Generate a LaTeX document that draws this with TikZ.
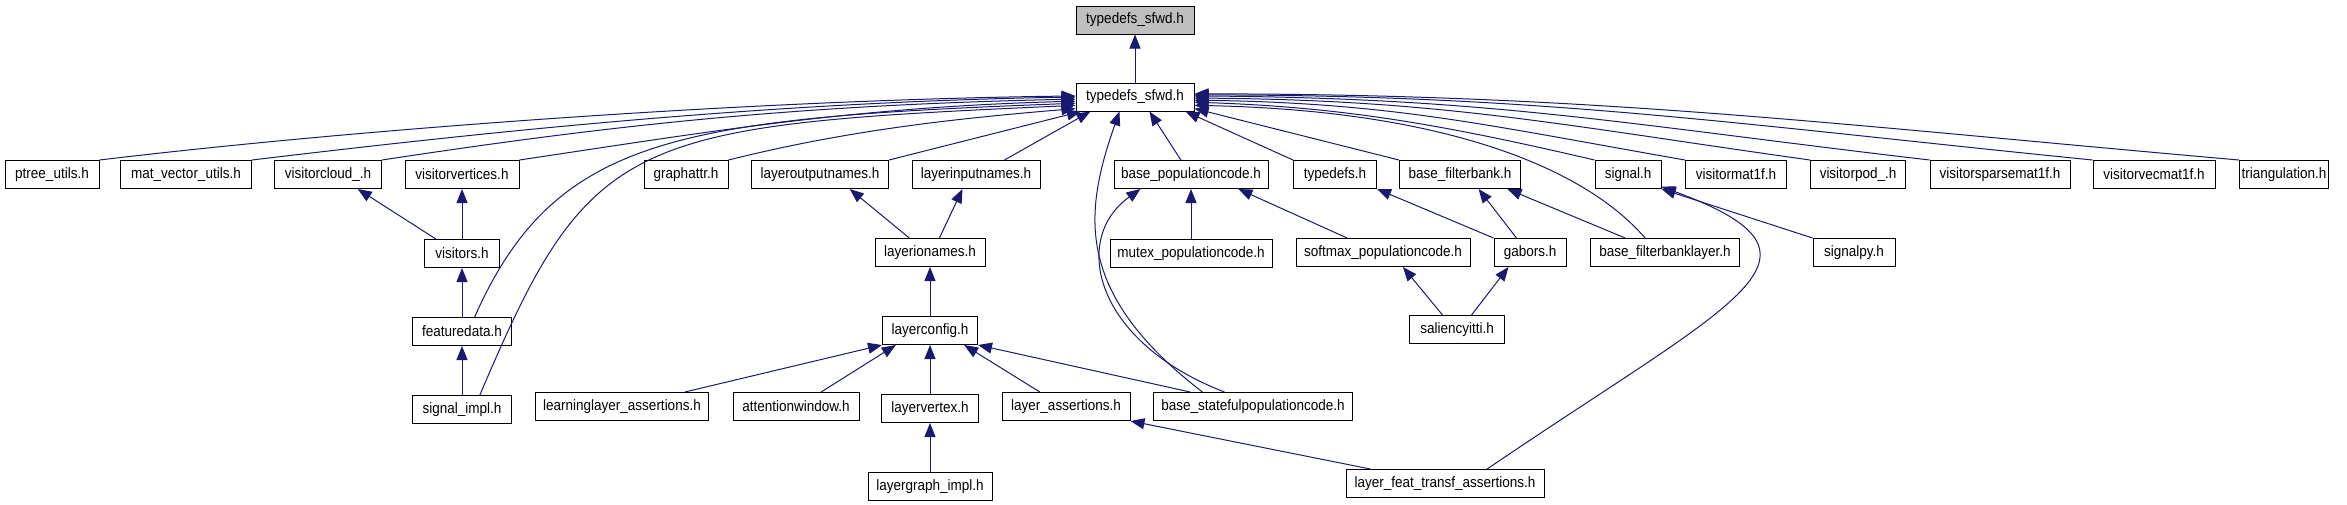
\documentclass[tikz,border=0pt]{standalone}
\usepackage{fontspec}
\setmainfont[FakeStretch=0.9]{Liberation Sans}
\usepackage{xcolor}
\usetikzlibrary{arrows.meta,positioning}
\definecolor{edgeblue}{HTML}{191970}
\definecolor{rootgray}{HTML}{BFBFBF}

\begin{document}
\begin{tikzpicture}[
    x=1pt, y=-1pt,
    >={Triangle[length=14pt,width=11pt]},
    every node/.style={font=\fontsize{15}{17}\selectfont},
    file/.style={draw, line width=1pt, fill=white, minimum height=28pt, inner sep=0pt},
    inc/.style={->, draw=edgeblue, line width=1pt}
]
\useasboundingbox[fill=white] (0,0) rectangle (2347,504);

% root and its one includer
\node[file,fill=rootgray,minimum width=118pt] (sfwdtop) at (1135,20) {typedefs\_sfwd.h};
\node[file,minimum width=118pt] (sfwd) at (1135,97) {typedefs\_sfwd.h};

% first row
\node[file,minimum width=94pt] (ptree) at (52,174.5) {ptree\_utils.h};
\node[file,minimum width=131pt] (matvec) at (186,174.5) {mat\_vector\_utils.h};
\node[file,minimum width=107pt] (viscloud) at (328,174.5) {visitorcloud\_.h};
\node[file,minimum width=114pt] (visvert) at (462,174.5) {visitorvertices.h};
\node[file,minimum width=84pt] (graphattr) at (686,174.5) {graphattr.h};
\node[file,minimum width=137pt] (layerout) at (820,174.5) {layeroutputnames.h};
\node[file,minimum width=128pt] (layerin) at (976,174.5) {layerinputnames.h};
\node[file,minimum width=154pt] (basepop) at (1191,174.5) {base\_populationcode.h};
\node[file,minimum width=83pt] (typedefs) at (1335,174.5) {typedefs.h};
\node[file,minimum width=121pt] (basefb) at (1460,174.5) {base\_filterbank.h};
\node[file,minimum width=66pt] (signal) at (1628,174.5) {signal.h};
\node[file,minimum width=101pt] (vismat) at (1736,174.5) {visitormat1f.h};
\node[file,minimum width=95pt] (vispod) at (1858,174.5) {visitorpod\_.h};
\node[file,minimum width=140pt] (vissparse) at (2000,174.5) {visitorsparsemat1f.h};
\node[file,minimum width=122pt] (visvec) at (2154,174.5) {visitorvecmat1f.h};
\node[file,minimum width=89pt] (triang) at (2284,174.5) {triangulation.h};

% second row
\node[file,minimum width=75pt,below=50pt of visvert] (visitors) {visitors.h};
\node[file,minimum width=110pt] (layerio) at (930,252.5) {layerionames.h};
\node[file,minimum width=162pt,below=50pt of basepop] (mutex) {mutex\_populationcode.h};
\node[file,minimum width=174pt] (softmax) at (1383,252.5) {softmax\_populationcode.h};
\node[file,minimum width=72pt] (gabors) at (1530,252.5) {gabors.h};
\node[file,minimum width=149pt] (basefbl) at (1665,252.5) {base\_filterbanklayer.h};
\node[file,minimum width=82pt] (signalpy) at (1854,252.5) {signalpy.h};

% third row
\node[file,minimum width=99pt,below=49pt of visitors] (featuredata) {featuredata.h};
\node[file,minimum width=95pt,below=49pt of layerio] (layerconfig) {layerconfig.h};
\node[file,minimum width=95pt] (saliency) at (1457,329.5) {saliencyitti.h};

% fourth row
\node[file,minimum width=99pt,below=49pt of featuredata] (signalimpl) {signal\_impl.h};
\node[file,minimum width=173pt] (learnassert) at (622,406.5) {learninglayer\_assertions.h};
\node[file,minimum width=126pt] (attention) at (796,406.5) {attentionwindow.h};
\node[file,minimum width=97pt,below=49pt of layerconfig] (layervertex) {layervertex.h};
\node[file,minimum width=128pt] (layerassert) at (1066,406.5) {layer\_assertions.h};
\node[file,minimum width=199pt] (stateful) at (1253,406.5) {base\_statefulpopulationcode.h};

% fifth row
\node[file,minimum width=124pt,below=49pt of layervertex] (layergraph) {layergraph\_impl.h};
\node[file,minimum width=198pt] (lfta) at (1445,483.5) {layer\_feat\_transf\_assertions.h};

% into the root
\draw[inc] (sfwd) -- (sfwdtop);

% into typedefs_sfwd.h, left side
\draw[inc] (ptree.north east) .. controls +(250,-30) and +(-330,4) .. (sfwd.179);
\draw[inc] (matvec.north east) .. controls +(250,-30) and +(-300,5) .. (sfwd.180);
\draw[inc] (viscloud.north east) .. controls +(230,-35) and +(-280,6) .. (sfwd.182);
\draw[inc] (visvert.north east) .. controls +(200,-30) and +(-220,6) .. (sfwd.184);
\draw[inc] (featuredata.49) .. controls +(80,-180) and +(-400,15) .. (sfwd.186);
\draw[inc] (signalimpl.39) .. controls +(110,-260) and +(-450,20) .. (sfwd.188);
\draw[inc] (graphattr.north east) .. controls +(120,-30) and +(-120,10) .. (sfwd.191);
\draw[inc] (layerout.north east) -- (sfwd.195);
\draw[inc] (layerin.27) -- (sfwd.198);
\draw[inc] (stateful.164) .. controls +(-130,-100) and +(-35,100) .. (sfwd.223);
\draw[inc] (basepop.125) -- (sfwd.315);

% into typedefs_sfwd.h, right side
\draw[inc] (typedefs.north west) -- (sfwd.344);
\draw[inc] (basefb.north west) -- (sfwd.349);
\draw[inc] (basefbl.144) .. controls +(-60,-70) and +(250,5) .. (sfwd.352);
\draw[inc] (signal.north west) .. controls +(-150,-35) and +(150,5) .. (sfwd.355);
\draw[inc] (vismat.north west) .. controls +(-200,-35) and +(200,3) .. (sfwd.357);
\draw[inc] (vispod.north west) .. controls +(-250,-35) and +(250,2) .. (sfwd.359);
\draw[inc] (vissparse.north west) .. controls +(-300,-35) and +(300,2) .. (sfwd.1);
\draw[inc] (visvec.north west) .. controls +(-350,-35) and +(350,0) .. (sfwd.2);
\draw[inc] (triang.north west) .. controls +(-400,-35) and +(400,0) .. (sfwd.3);

% visitors and features
\draw[inc] (visitors.151) -- (viscloud.334);
\draw[inc] (visitors) -- (visvert);
\draw[inc] (featuredata) -- (visitors);
\draw[inc] (signalimpl) -- (featuredata);

% layer names and config
\draw[inc] (layerio.145) -- (layerout.334);
\draw[inc] (layerio.57) -- (layerin.227);
\draw[inc] (layerconfig) -- (layerio);
\draw[inc] (learnassert.13) -- (layerconfig.south west);
\draw[inc] (attention.30) -- (layerconfig.203);
\draw[inc] (layervertex) -- (layerconfig);
\draw[inc] (layerassert.151) -- (layerconfig.337);
\draw[inc] (stateful.167) -- (layerconfig.south east);
\draw[inc] (layergraph) -- (layervertex);
\draw[inc] (lfta.169) -- (layerassert.south east);

% population codes
\draw[inc] (mutex) -- (basepop);
\draw[inc] (softmax.158) -- (basepop.343);
\draw[inc] (stateful.153) .. controls +(-130,-50) and +(-70,50) .. (basepop.196);
\draw[inc] (saliency.135) -- (softmax.324);

% filter banks
\draw[inc] (gabors.north west) -- (typedefs.south east);
\draw[inc] (gabors.133) -- (basefb.322);
\draw[inc] (saliency.45) -- (gabors.214);
\draw[inc] (basefbl.160) -- (basefb.343);

% signal
\draw[inc] (signalpy.north west) -- (signal.south east);
\draw[inc] (lfta.19) .. controls +(250,-170) and +(190,70) .. (signal.340);

\end{tikzpicture}
\end{document}
